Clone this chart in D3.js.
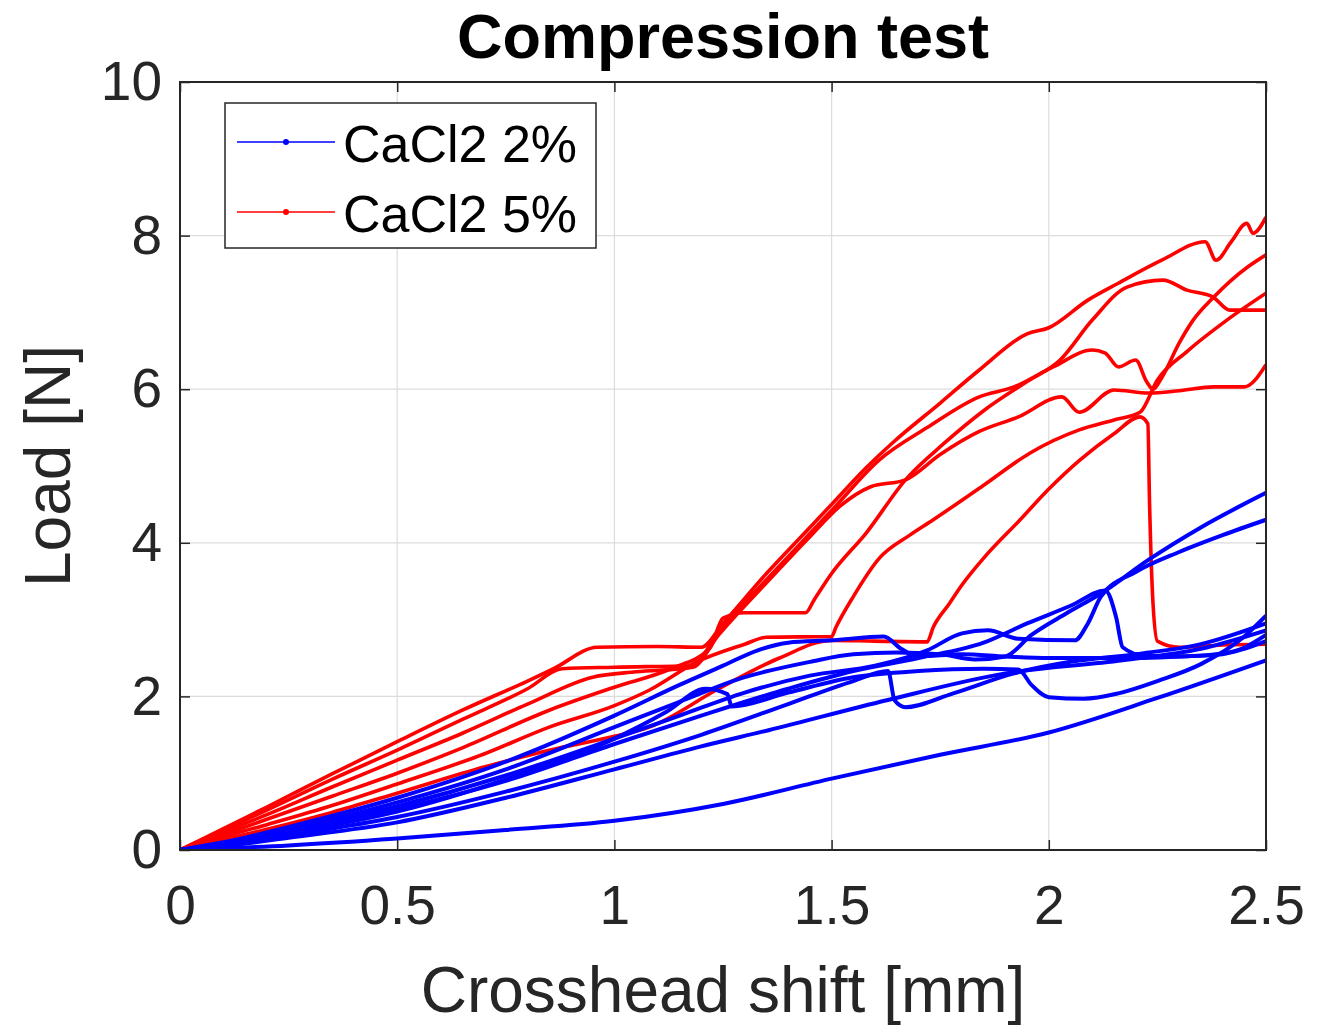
<!DOCTYPE html>
<html><head><meta charset="utf-8">
<script src="https://cdnjs.cloudflare.com/ajax/libs/d3/7.8.5/d3.min.js"></script>
<style>body{margin:0;background:#fff}</style></head>
<body><svg id="c" width="1321" height="1027"></svg>
<script>
// ---------- data ----------
const chartTitle = "Compression test";
const xLabel = "Crosshead shift [mm]";
const yLabel = "Load [N]";
const seriesNames = ["CaCl2 2%", "CaCl2 5%"];
const seriesColors = ["#0000ff", "#ff0000"];
const xTicks = [0, 0.5, 1, 1.5, 2, 2.5];
const yTicks = [0, 2, 4, 6, 8, 10];

// CaCl2 2% specimens (blue)
const blue1 = [[0,0],[0.1,0.1],[0.25,0.3],[0.5,0.68],[0.75,1.15],[1.0,1.75],[1.15,2.15],[1.25,2.4],[1.33,2.6],[1.4,2.7],[1.5,2.73],[1.62,2.78],[1.66,2.62],[1.7,2.52],[1.8,2.55],[1.9,2.52],[2.0,2.5],[2.1,2.5],[2.2,2.5],[2.3,2.52],[2.4,2.55],[2.45,2.62],[2.5,2.72]];
const blue2 = [[0,0],[0.1,0.09],[0.25,0.27],[0.5,0.62],[0.75,1.05],[1.0,1.6],[1.15,1.93],[1.3,2.25],[1.45,2.45],[1.55,2.55],[1.65,2.57],[1.75,2.55],[1.83,2.48],[1.9,2.52],[1.96,2.8],[2.04,3.08],[2.12,3.34],[2.23,3.78],[2.35,4.2],[2.5,4.65]];
const blue3 = [[0,0],[0.1,0.08],[0.25,0.25],[0.5,0.57],[0.75,0.97],[1.0,1.45],[1.15,1.75],[1.3,2.05],[1.45,2.27],[1.6,2.4],[1.72,2.6],[1.8,2.82],[1.86,2.86],[1.93,2.75],[2.06,2.73],[2.09,2.95],[2.12,3.3],[2.2,3.62],[2.3,3.88],[2.4,4.1],[2.5,4.3]];
const blue4 = [[0,0],[0.1,0.08],[0.25,0.23],[0.5,0.53],[0.75,0.9],[1.0,1.38],[1.2,1.75],[1.4,2.1],[1.55,2.33],[1.7,2.5],[1.85,2.7],[1.95,2.95],[2.05,3.18],[2.13,3.38],[2.155,3.03],[2.17,2.64],[2.22,2.53],[2.3,2.52],[2.42,2.58],[2.5,2.8]];
const blue5 = [[0,0],[0.1,0.07],[0.25,0.22],[0.5,0.5],[0.75,0.92],[1.0,1.45],[1.12,1.8],[1.21,2.1],[1.26,2.03],[1.27,1.87],[1.4,2.05],[1.55,2.25],[1.7,2.33],[1.85,2.36],[1.93,2.35],[1.96,2.15],[2.0,1.99],[2.08,1.97],[2.16,2.04],[2.25,2.2],[2.35,2.42],[2.45,2.78],[2.5,3.05]];
const blue6 = [[0,0],[0.1,0.06],[0.25,0.19],[0.5,0.43],[0.75,0.76],[1.0,1.15],[1.2,1.5],[1.4,1.9],[1.55,2.2],[1.63,2.33],[1.645,1.95],[1.67,1.86],[1.78,2.04],[1.92,2.3],[2.05,2.45],[2.2,2.55],[2.35,2.68],[2.5,2.95]];
const blue7 = [[0,0],[0.1,0.05],[0.25,0.16],[0.5,0.36],[0.75,0.68],[1.0,1.05],[1.2,1.35],[1.355,1.56],[1.627,1.95],[1.9,2.3],[2.17,2.47],[2.35,2.62],[2.5,2.86]];
const blue8 = [[0,0],[0.25,0.06],[0.5,0.15],[0.75,0.26],[1.0,0.38],[1.25,0.6],[1.5,0.93],[1.75,1.24],[2.0,1.53],[2.25,1.98],[2.5,2.47]];

// CaCl2 5% specimens (red)
const red1 = [[0,0],[0.05,0.14],[0.2,0.56],[0.35,0.99],[0.5,1.41],[0.65,1.82],[0.8,2.2],[0.86,2.36],[0.96,2.64],[1.1,2.65],[1.2,2.64],[1.25,2.95],[1.35,3.6],[1.45,4.2],[1.5,4.5],[1.58,4.98],[1.64,5.3],[1.75,5.82],[1.84,6.25],[1.95,6.72],[2.0,6.8],[2.09,7.16],[2.16,7.38],[2.26,7.68],[2.36,7.92],[2.385,7.68],[2.42,7.92],[2.456,8.16],[2.47,8.03],[2.5,8.24]];
const red2 = [[0,0],[0.05,0.13],[0.2,0.52],[0.35,0.92],[0.5,1.3],[0.65,1.7],[0.8,2.1],[0.88,2.36],[1.0,2.38],[1.18,2.4],[1.24,2.85],[1.35,3.52],[1.45,4.12],[1.5,4.42],[1.61,5.08],[1.72,5.5],[1.84,5.9],[1.92,6.03],[2.01,6.29],[2.1,6.51],[2.13,6.47],[2.16,6.29],[2.2,6.38],[2.225,6.1],[2.24,6.0],[2.26,6.15],[2.3,6.6],[2.33,6.88],[2.38,7.2],[2.46,7.6],[2.5,7.75]];
const red3 = [[0,0],[0.05,0.12],[0.2,0.46],[0.35,0.82],[0.5,1.17],[0.65,1.52],[0.8,1.9],[0.95,2.25],[1.05,2.32],[1.18,2.38],[1.24,2.8],[1.35,3.48],[1.45,4.08],[1.52,4.48],[1.59,4.73],[1.67,4.82],[1.75,5.15],[1.84,5.45],[1.93,5.64],[2.03,5.9],[2.07,5.7],[2.15,5.99],[2.23,5.95],[2.3,5.98],[2.38,6.03],[2.45,6.03],[2.5,6.32]];
const red4 = [[0,0],[0.05,0.1],[0.2,0.4],[0.35,0.7],[0.5,1.0],[0.65,1.33],[0.85,1.82],[1.0,2.12],[1.13,2.36],[1.22,2.63],[1.25,3.02],[1.3,3.09],[1.44,3.09],[1.46,3.26],[1.5,3.6],[1.58,4.13],[1.67,4.82],[1.76,5.3],[1.85,5.72],[1.95,6.1],[2.026,6.38],[2.1,6.9],[2.18,7.33],[2.263,7.42],[2.318,7.29],[2.378,7.2],[2.417,7.03],[2.5,7.03]];
const red5 = [[0,0],[0.05,0.09],[0.2,0.33],[0.35,0.58],[0.5,0.86],[0.7,1.25],[0.85,1.6],[1.0,1.88],[1.08,2.08],[1.19,2.45],[1.3,2.68],[1.35,2.77],[1.5,2.78],[1.51,2.9],[1.55,3.3],[1.61,3.8],[1.68,4.1],[1.734,4.3],[1.85,4.75],[1.957,5.17],[2.07,5.47],[2.15,5.6],[2.21,5.7],[2.25,6.12],[2.32,6.5],[2.41,6.9],[2.5,7.25]];
const red6 = [[0,0],[0.05,0.07],[0.2,0.27],[0.35,0.49],[0.5,0.74],[0.7,1.08],[0.85,1.3],[1.0,1.48],[1.08,1.6],[1.24,2.1],[1.38,2.5],[1.5,2.73],[1.6,2.72],[1.72,2.71],[1.734,2.9],[1.77,3.2],[1.8,3.45],[1.85,3.8],[1.934,4.3],[2.0,4.7],[2.072,5.08],[2.15,5.42],[2.21,5.64],[2.228,5.55],[2.232,4.5],[2.24,3.2],[2.25,2.72],[2.3,2.64],[2.4,2.67],[2.5,2.68]];

const blueSeries = [blue1, blue2, blue3, blue4, blue5, blue6, blue7, blue8];
const redSeries = [red1, red2, red3, red4, red5, red6];

// ---------- drawing ----------
const FONT = "'Liberation Sans', Arial, Helvetica, sans-serif";
const svg = d3.select("#c");
svg.append("rect").attr("width",1321).attr("height",1027).attr("fill","#fff");
const L=180, R=1266, T=82, B=850;
const x = d3.scaleLinear().domain([0,2.5]).range([L,R]);
const y = d3.scaleLinear().domain([0,10]).range([B,T]);

// grid
const grid = svg.append("g");
grid.selectAll("line.gx").data(xTicks).join("line")
  .attr("x1",d=>x(d)).attr("x2",d=>x(d)).attr("y1",T).attr("y2",B)
  .attr("stroke","#dcdcdc").attr("stroke-width",1.2);
grid.selectAll("line.gy").data(yTicks).join("line")
  .attr("y1",d=>y(d)).attr("y2",d=>y(d)).attr("x1",L).attr("x2",R)
  .attr("stroke","#dcdcdc").attr("stroke-width",1.2);

// curves
svg.append("clipPath").attr("id","pa").append("rect")
  .attr("x",L).attr("y",T).attr("width",R-L).attr("height",B-T);
const line = d3.line().x(d=>x(d[0])).y(d=>y(d[1])).curve(d3.curveMonotoneX);
const plot = svg.append("g").attr("clip-path","url(#pa)");
plot.selectAll("path.r").data(redSeries).join("path").attr("class","r")
  .attr("d",line).attr("fill","none").attr("stroke",seriesColors[1])
  .attr("stroke-width",3.6).attr("stroke-linejoin","round");
plot.selectAll("path.b").data(blueSeries).join("path").attr("class","b")
  .attr("d",line).attr("fill","none").attr("stroke",seriesColors[0])
  .attr("stroke-width",4).attr("stroke-linejoin","round");

// axes
const fmt = d => d3.format("~g")(d);
const xAxis = svg.append("g").attr("transform",`translate(0,${B})`)
  .call(d3.axisBottom(x).tickValues(xTicks).tickFormat(fmt).tickSizeInner(-10).tickSizeOuter(0).tickPadding(35));
const yAxis = svg.append("g").attr("transform",`translate(${L},0)`)
  .call(d3.axisLeft(y).tickValues(yTicks).tickFormat(fmt).tickSizeInner(-10).tickSizeOuter(0).tickPadding(18));
const xAxisTop = svg.append("g").attr("transform",`translate(0,${T})`)
  .call(d3.axisTop(x).tickValues(xTicks).tickFormat("").tickSizeInner(-10).tickSizeOuter(0));
const yAxisRight = svg.append("g").attr("transform",`translate(${R},0)`)
  .call(d3.axisRight(y).tickValues(yTicks).tickFormat("").tickSizeInner(-10).tickSizeOuter(0));
[xAxis,yAxis,xAxisTop,yAxisRight].forEach(g=>{
  g.select(".domain").remove();
  g.selectAll(".tick line").attr("stroke","#262626").attr("stroke-width",1.5);
  g.selectAll("text").attr("font-family",FONT).attr("font-size",55).attr("fill","#262626");
});
svg.append("rect").attr("x",L).attr("y",T).attr("width",R-L).attr("height",B-T)
  .attr("fill","none").attr("stroke","#262626").attr("stroke-width",2);

// titles
svg.append("text").attr("x",(L+R)/2).attr("y",58).attr("text-anchor","middle")
  .attr("font-family",FONT).attr("font-weight","bold").attr("font-size",63).attr("fill","#000").text(chartTitle);
svg.append("text").attr("x",(L+R)/2).attr("y",1012).attr("text-anchor","middle")
  .attr("font-family",FONT).attr("font-size",64).attr("fill","#262626").text(xLabel);
svg.append("text").attr("transform",`translate(70,${(T+B)/2}) rotate(-90)`).attr("text-anchor","middle")
  .attr("font-family",FONT).attr("font-size",64).attr("fill","#262626").text(yLabel);

// legend
const lg = svg.append("g");
lg.append("rect").attr("x",225).attr("y",103).attr("width",371).attr("height",145)
  .attr("fill","#fff").attr("stroke","#262626").attr("stroke-width",1.5);
seriesNames.forEach((n,i)=>{
  const yy = 142 + i*70;
  lg.append("line").attr("x1",237).attr("x2",335).attr("y1",yy).attr("y2",yy)
    .attr("stroke",seriesColors[i]).attr("stroke-width",1.5);
  lg.append("circle").attr("cx",286).attr("cy",yy).attr("r",3).attr("fill",seriesColors[i]);
  lg.append("text").attr("x",343).attr("y",yy+20).attr("font-family",FONT)
    .attr("font-size",52).attr("fill","#000").text(n);
});
</script></body></html>
